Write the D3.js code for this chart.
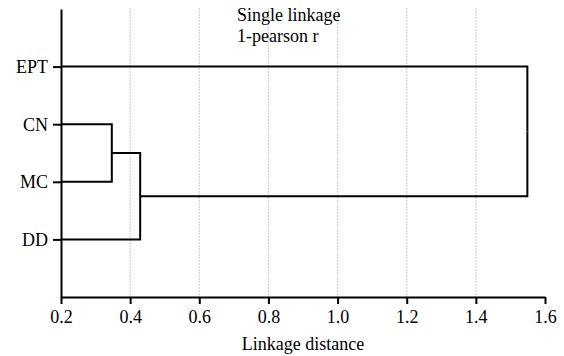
<!DOCTYPE html>
<html>
<head>
<meta charset="utf-8">
<script src="https://cdn.jsdelivr.net/npm/d3@7"></script>
<style>
  body { margin: 0; background: #fff; }
  svg text { font-family: "Liberation Serif", "Times New Roman", Tinos, "DejaVu Serif", serif; fill: #000; }
</style>
</head>
<body>
<svg id="chart" width="564" height="356"></svg>
<script>
// leaf order top to bottom
const leaves = ["EPT", "CN", "MC", "DD"];
// merge heights (single linkage, 1 - pearson r)
const mergeCNMC = 0.347;
const mergeDD = 0.429;
const mergeEPT = 1.549;
const xTicks = [0.2, 0.4, 0.6, 0.8, 1.0, 1.2, 1.4, 1.6];
const gridTicks = [0.4, 0.6, 0.8, 1.0, 1.2, 1.4];
const titleLines = ["Single linkage", "1-pearson r"];
const xTitle = "Linkage distance";
const serif = "\"Liberation Serif\", \"Times New Roman\", Tinos, \"DejaVu Serif\", serif";

// tree built from the arrays above
const tree = {
  h: mergeEPT,
  children: [
    { name: leaves[0], h: 0 },
    {
      h: mergeDD,
      children: [
        { h: mergeCNMC, children: [{ name: leaves[1], h: 0 }, { name: leaves[2], h: 0 }] },
        { name: leaves[3], h: 0 }
      ]
    }
  ]
};

const svg = d3.select("#chart");
const plotLeft = 61, plotRight = 545, plotTop = 9, plotBottom = 297;

const x = d3.scaleLinear().domain([0.2, 1.6]).range([plotLeft, plotRight]);
const y = d3.scalePoint().domain(leaves).range([plotTop, plotBottom]).padding(1);

// dashed grid
svg.append("g")
  .selectAll("line")
  .data(gridTicks)
  .enter()
  .append("line")
  .attr("x1", d => x(d)).attr("x2", d => x(d))
  .attr("y1", plotTop - 1).attr("y2", plotBottom)
  .attr("stroke", "#d4d4d4")
  .attr("stroke-width", 1.3)
  .attr("stroke-dasharray", "2,1");

// dendrogram
const root = d3.hierarchy(tree);
root.eachAfter(n => {
  n.py = n.children ? d3.mean(n.children, c => c.py) : y(n.data.name);
  n.px = n.children ? x(n.data.h) : x(x.domain()[0]);
});

svg.append("g")
  .selectAll("path")
  .data(root.links())
  .enter()
  .append("path")
  .attr("d", l => `M${l.target.px},${l.target.py}H${l.source.px}V${l.source.py}`)
  .attr("fill", "none")
  .attr("stroke", "#000")
  .attr("stroke-width", 2);

// axes
const xAxis = svg.append("g")
  .attr("transform", `translate(0,${plotBottom})`)
  .call(d3.axisBottom(x).tickValues(xTicks).tickFormat(d3.format(".1f")).tickSize(7).tickSizeOuter(0).tickPadding(6));

const yAxis = svg.append("g")
  .attr("transform", `translate(${plotLeft},0)`)
  .call(d3.axisLeft(y).tickSize(8).tickSizeOuter(0).tickPadding(5));

[xAxis, yAxis].forEach(a => {
  a.attr("font-family", serif).attr("font-size", 18);
  a.select(".domain").attr("stroke", "#000").attr("stroke-width", 2);
  a.selectAll(".tick line").attr("stroke", "#000").attr("stroke-width", 2);
  a.selectAll("text").attr("fill", "#000");
});
yAxis.selectAll("text").attr("dy", "0.34em");

// title
svg.append("g")
  .selectAll("text")
  .data(titleLines)
  .enter()
  .append("text")
  .attr("x", 237)
  .attr("y", (d, i) => 21 + i * 21)
  .attr("font-family", serif)
  .attr("font-size", 18)
  .text(d => d);

svg.append("text")
  .attr("x", (plotLeft + plotRight) / 2)
  .attr("y", 350)
  .attr("text-anchor", "middle")
  .attr("font-family", serif)
  .attr("font-size", 18)
  .text(xTitle);
</script>
</body>
</html>
